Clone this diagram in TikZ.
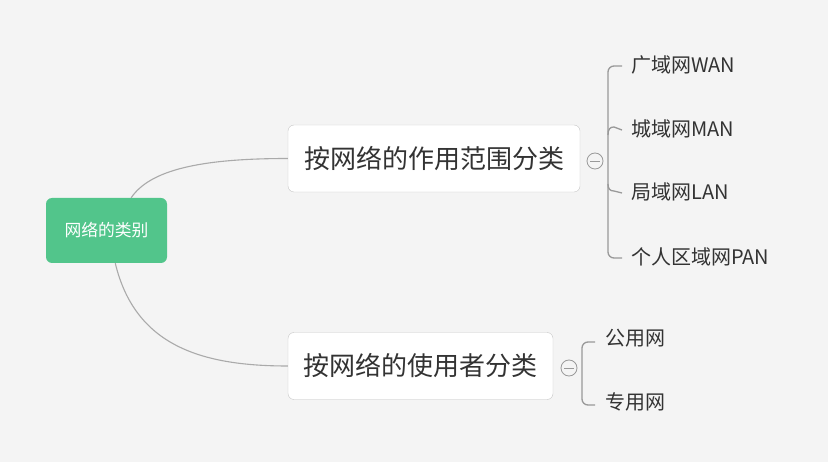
\documentclass[tikz,border=0pt]{standalone}
\usepackage{fontspec}
\setmainfont{Noto Sans CJK SC}
\definecolor{bgc}{HTML}{F4F4F4}
\definecolor{rootc}{HTML}{52C58B}
\definecolor{txt}{HTML}{333333}
\definecolor{boxline}{HTML}{C6C6C6}
\definecolor{curvec}{HTML}{AAAAAA}
\definecolor{brc}{HTML}{999999}
\begin{document}
\begin{tikzpicture}[x=1pt,y=-1pt,
  rootbox/.style={fill=rootc, rounded corners=6pt, minimum width=121pt, minimum height=65pt, inner sep=0pt, text=white, font=\fontsize{16.8}{18}\selectfont},
  mainbox/.style={draw=boxline, fill=white, rounded corners=6pt, minimum height=67pt, inner sep=0pt, text=txt, font=\fontsize{26}{28}\selectfont},
  leaf/.style={anchor=west, inner sep=0pt, text=txt, font=\fontsize{20}{22}\selectfont},
  toggle/.style={circle, draw=brc, fill=bgc, minimum size=16pt, inner sep=0pt, line width=0.8pt},
  link/.style={draw=curvec, line width=1.1pt},
  bracket/.style={draw=brc, line width=1.3pt}
]
\fill[bgc] (0,0) rectangle (828,462);
\useasboundingbox (0,0) rectangle (828,462);

\node[rootbox] (root) at (106.5,230.5) {网络的类别};
\node[mainbox, minimum width=292pt] (m1) at (434,158.5) {按网络的作用范围分类};
\node[mainbox, minimum width=265pt] (m2) at (420.5,366) {按网络的使用者分类};

\draw[link] (root.53) .. controls (150,170) and (200,158.5) .. (m1.west);
\draw[link] (root.-75) .. controls (135,345) and (200,366) .. (m2.west);

\node[toggle] (t1) at (595,161) {};
\draw[brc, line width=0.9pt] ([xshift=-5pt]t1.center) -- ([xshift=5pt]t1.center);
\node[toggle] (t2) at (569,368) {};
\draw[brc, line width=0.9pt] ([xshift=-5pt]t2.center) -- ([xshift=5pt]t2.center);

\node[leaf] (a1) at (631,64.5) {广域网WAN};
\node[leaf] (a2) at (631,128.5) {城域网MAN};
\node[leaf] (a3) at (631,192) {局域网LAN};
\node[leaf] (a4) at (631,256.5) {个人区域网PAN};

\node[leaf] (b1) at (605,338) {公用网};
\node[leaf] (b2) at (605,401.5) {专用网};

% bracket 1
\coordinate (v1) at (608,110);
\draw[bracket, rounded corners=6pt] ([xshift=-9pt,yshift=-1.5pt]a1.west) -| (v1) |- ([xshift=-9pt,yshift=-1.5pt]a4.west);
\draw[bracket] (608,135) .. controls (608,129) and (610,127) .. (614,127) -- ([xshift=-9pt,yshift=-1.5pt]a2.west);
\draw[bracket] (608,184) .. controls (608,189) and (610,191) .. (614,191) -- ([xshift=-9pt,yshift=-1pt]a3.west);

% bracket 2
\coordinate (v2) at (582,368);
\draw[bracket, rounded corners=6pt] ([xshift=-10pt,yshift=-4pt]b1.west) -| (v2) |- ([xshift=-10pt,yshift=-3.5pt]b2.west);
\end{tikzpicture}
\end{document}
